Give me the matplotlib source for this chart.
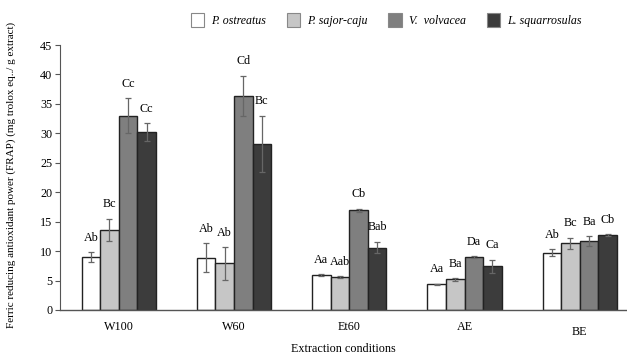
import matplotlib
matplotlib.use("Agg")
import matplotlib.pyplot as plt
import matplotlib.transforms as mtransforms
import numpy as np

plt.rcParams['font.family'] = ['Liberation Serif', 'DejaVu Serif']

categories = ["W100", "W60", "Et60", "AE", "BE"]
species = ["P. ostreatus", "P. sajor-caju", "V.  volvacea", "L. squarrosulas"]

p_ostreatus = [9.0, 8.9, 5.9, 4.4, 9.7]
p_sajor_caju = [13.6, 7.9, 5.6, 5.2, 11.3]
v_volvacea = [33.0, 36.4, 16.9, 9.0, 11.7]
l_squarrosulas = [30.2, 28.2, 10.6, 7.4, 12.7]

err_ostreatus = [0.85, 2.4, 0.2, 0.1, 0.6]
err_sajor_caju = [1.9, 2.8, 0.1, 0.2, 1.0]
err_volvacea = [2.95, 3.4, 0.3, 0.15, 0.85]
err_squarrosulas = [1.5, 4.8, 1.0, 1.15, 0.2]

lab_ostreatus = ["Ab", "Ab", "Aa", "Aa", "Ab"]
lab_sajor_caju = ["Bc", "Ab", "Aab", "Ba", "Bc"]
lab_volvacea = ["Cc", "Cd", "Cb", "Da", "Ba"]
lab_squarrosulas = ["Cc", "Bc", "Bab", "Ca", "Cb"]

values = [p_ostreatus, p_sajor_caju, v_volvacea, l_squarrosulas]
errors = [err_ostreatus, err_sajor_caju, err_volvacea, err_squarrosulas]
labels = [lab_ostreatus, lab_sajor_caju, lab_volvacea, lab_squarrosulas]
colors = ["#ffffff", "#c6c6c6", "#7f7f7f", "#3c3c3c"]

fig = plt.figure(figsize=(6.27, 3.54), dpi=100)
ax = fig.add_axes([60/627, 1 - 310/354, 567/627, 265/354])

x = np.arange(len(categories))
w = 0.161
for i in range(4):
    pos = x + (i - 1.5) * w
    ax.bar(pos, values[i], w, color=colors[i], edgecolor="#222222", linewidth=1.0,
           label=species[i], zorder=2)
    ax.errorbar(pos, values[i], yerr=errors[i], fmt="none", ecolor="#666666",
                elinewidth=0.9, capsize=2.2, capthick=0.9, zorder=3)
    for j in range(len(categories)):
        ax.annotate(labels[i][j], (pos[j], values[i][j] + errors[i][j]),
                    xytext=(0, 6), textcoords="offset points", ha="center",
                    va="bottom", fontsize=8.7)

ax.set_xlim(-0.51, 4.41)
ax.set_ylim(0, 45)
ax.set_yticks(range(0, 46, 5))
ax.set_xticks(x)
ax.set_xticklabels(categories, fontsize=8.7)
ax.tick_params(axis="y", labelsize=8.7, length=3.5, width=0.8, color="#555555", pad=2)
ax.tick_params(axis="x", length=0, pad=8)
for s in ["top", "right"]:
    ax.spines[s].set_visible(False)
ax.spines["left"].set_color("#555555")
ax.spines["bottom"].set_color("#555555")
ax.spines["left"].set_linewidth(0.8)
ax.spines["bottom"].set_linewidth(1.0)

# last category label sits a bit lower in the reference
lbl = ax.get_xticklabels()[-1]
lbl.set_transform(lbl.get_transform() + mtransforms.ScaledTranslation(0, -5/100, fig.dpi_scale_trans))

ax.set_ylabel("Ferric reducing antioxidant power (FRAP) (mg trolox eq../ g extract)",
              fontsize=8, labelpad=4)
ax.yaxis.set_label_coords(-0.078, 0.51)
fig.text(343/627, 1 - 349/354, "Extraction conditions", ha="center", va="center", fontsize=8.7)

handles, lbls = ax.get_legend_handles_labels()
leg = fig.legend(handles, lbls, loc="center", bbox_to_anchor=(386/627, 1 - 20/354),
                 ncol=4, frameon=False, prop={"style": "italic", "size": 8.6},
                 handlelength=1.1, handleheight=1.5, columnspacing=1.75, handletextpad=0.6)
for h in leg.legend_handles:
    h.set_edgecolor("#888888")
    h.set_linewidth(0.8)

fig.savefig("out.png", dpi=100)
